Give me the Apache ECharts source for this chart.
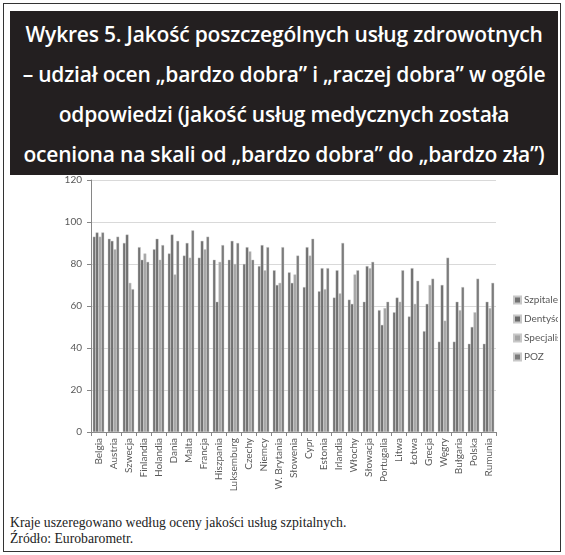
<!DOCTYPE html>
<html>
<head>
<meta charset="utf-8">
<script src="https://cdn.jsdelivr.net/npm/echarts@6/dist/echarts.min.js"></script>
<style>
  html, body { margin: 0; padding: 0; background: #fff; }
  .frame {
    position: absolute; left: 3px; top: 3px; width: 556px; height: 547px;
    border: 1.5px solid #333;
  }
  .title {
    position: absolute; left: 10px; top: 11px; width: 548px; height: 164px;
    background: #231f20; color: #fff;
    font-family: "Open Sans", "Noto Sans", sans-serif; font-weight: 600;
    font-size: 21px; line-height: 40px; text-align: center;
    padding-top: 3px; box-sizing: border-box; letter-spacing: -0.2px;
  }
  #chart { position: absolute; left: 5px; top: 172px; width: 553px; height: 340px; }
  .note {
    position: absolute; left: 10px; top: 515px;
    font-family: "Liberation Serif", "DejaVu Serif", serif; font-size: 13.7px;
    line-height: 16px; color: #222;
  }
</style>
</head>
<body>
<div class="frame"></div>
<div class="title">
  Wykres 5. Jakość poszczególnych usług zdrowotnych<br>
  – udział ocen „bardzo dobra” i „raczej dobra” w ogóle<br>
  odpowiedzi (jakość usług medycznych została<br>
  oceniona na skali od „bardzo dobra” do „bardzo zła”)
</div>
<div id="chart"></div>
<div class="note">
  Kraje uszeregowano według oceny jakości usług szpitalnych.<br>
  Źródło: Eurobarometr.
</div>
<script>
// kraje
const countries = ['Belgia', 'Austria', 'Szwecja', 'Finlandia', 'Holandia', 'Dania', 'Malta',
  'Francja', 'Hiszpania', 'Luksemburg', 'Czechy', 'Niemcy', 'W. Brytania', 'Słowenia', 'Cypr',
  'Estonia', 'Irlandia', 'Włochy', 'Słowacja', 'Portugalia', 'Litwa', 'Łotwa', 'Grecja',
  'Węgry', 'Bułgaria', 'Polska', 'Rumunia'];

// udział ocen dobrych (%)
const szpitale = [93, 92, 90, 88, 87, 85, 84, 83, 82, 82, 80, 79, 77, 76, 69,
  67, 64, 63, 62, 58, 57, 55, 48, 43, 43, 42, 42];
const dentysci = [95, 91, 94, 82, 92, 94, 90, 91, 62, 91, 88, 89, 70, 71, 88,
  78, 77, 61, 79, 51, 64, 78, 61, 70, 62, 50, 62];
const specjalisci = [93, 87, 71, 85, 82, 75, 83, 87, 81, 80, 86, 77, 71, 75, 84,
  68, 66, 75, 78, 59, 62, 61, 70, 53, 58, 57, 59];
const poz = [95, 93, 68, 81, 89, 91, 96, 93, 89, 90, 82, 88, 88, 84, 92,
  78, 90, 77, 81, 62, 77, 72, 73, 83, 69, 73, 71];

const yTicks = [0, 20, 40, 60, 80, 100, 120];

const seriesDefs = [
  { name: 'Szpitale', data: szpitale, color: '#737373' },
  { name: 'Dentyści', data: dentysci, color: '#6a6a6a' },
  { name: 'Specjaliści', data: specjalisci, color: '#a5a5a5' },
  { name: 'POZ', data: poz, color: '#7b7b7b' },
];

const myChart = echarts.init(document.getElementById('chart'));

const option = {
  animation: false,
  grid: { left: 86, top: 8, width: 405, height: 252 },
  legend: {
    orient: 'vertical',
    left: 508,
    top: 123,
    padding: 0,
    itemWidth: 7,
    itemHeight: 7,
    itemGap: 9,
    icon: 'rect',
    textStyle: { fontSize: 10, color: '#595959', fontFamily: 'Lato, sans-serif', padding: [0, 0, 0, -2] },
    data: seriesDefs.map(s => s.name),
  },
  xAxis: {
    type: 'category',
    data: countries,
    axisLine: { lineStyle: { color: '#868686' } },
    axisTick: { show: true, length: 4, lineStyle: { color: '#868686' } },
    axisLabel: {
      interval: 0, rotate: 90, fontSize: 10, color: '#595959', margin: 6,
      fontFamily: 'Lato, sans-serif',
    },
  },
  yAxis: {
    type: 'value',
    min: yTicks[0],
    max: yTicks[yTicks.length - 1],
    interval: yTicks[1] - yTicks[0],
    axisLine: { show: true, lineStyle: { color: '#868686' } },
    axisTick: { show: true, length: 4, lineStyle: { color: '#868686' } },
    splitLine: { lineStyle: { color: '#d9d9d9' } },
    axisLabel: { fontSize: 10, color: '#595959', margin: 9, fontFamily: 'Lato, sans-serif' },
  },
  series: seriesDefs.map(s => ({
    name: s.name,
    type: 'bar',
    data: s.data,
    barGap: '0%',
    barCategoryGap: '24%',
    itemStyle: { color: s.color, borderColor: '#c8c8c8', borderWidth: 0.4 },
  })),
};

myChart.setOption(option);
</script>
</body>
</html>
